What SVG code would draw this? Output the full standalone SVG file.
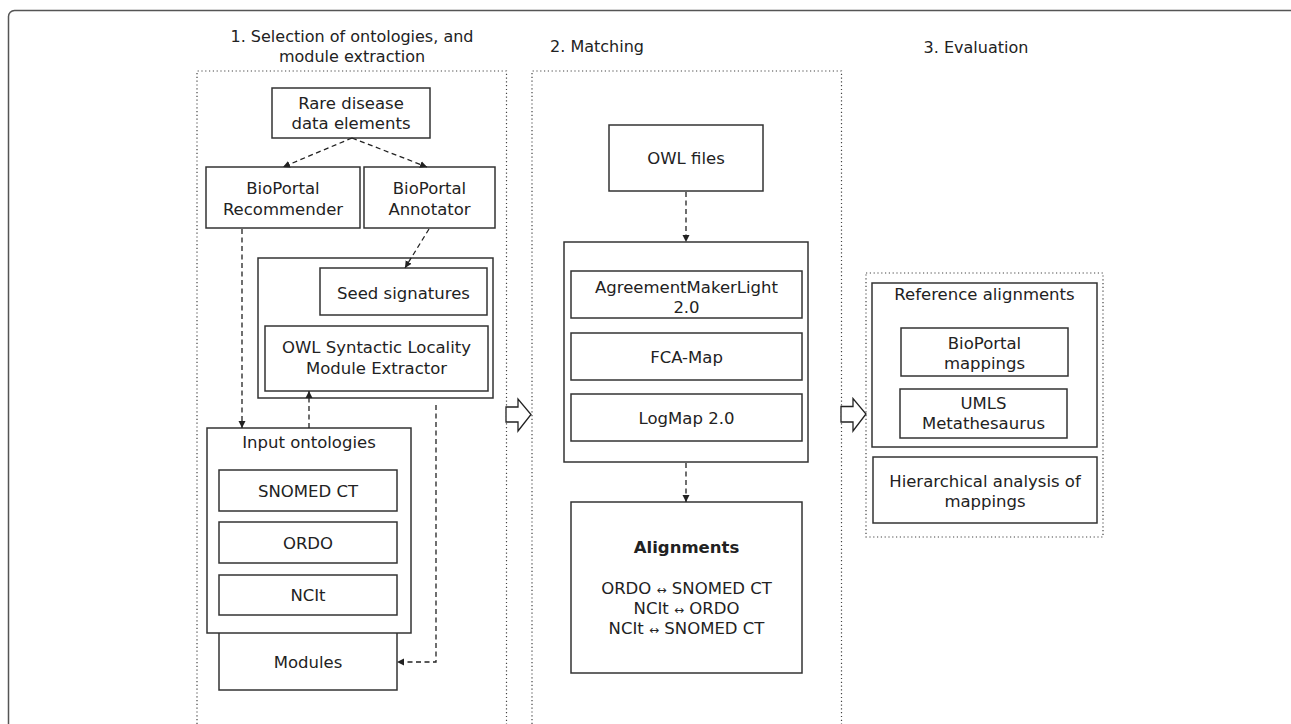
<svg xmlns="http://www.w3.org/2000/svg" width="1291" height="724" viewBox="0 0 1291 724">
<defs>
<style>
text{font-family:"DejaVu Sans","Noto Sans",sans-serif;font-size:16.5px;fill:#222;text-anchor:middle}
.title{font-size:16px}
.box{fill:#fff;stroke:#333;stroke-width:1.5}
.sec{fill:none;stroke:#444;stroke-width:1.2;stroke-dasharray:1.2 2.6}
.conn{fill:none;stroke:#222;stroke-width:1.3;stroke-dasharray:5 3.5}
.big{fill:#fff;stroke:#222;stroke-width:1.3}
.sym{font-size:12px}
</style>
<marker id="ah" markerWidth="8" markerHeight="8" refX="7" refY="4" orient="auto" markerUnits="userSpaceOnUse">
<path d="M0,0.5 L7,4 L0,7.5 Z" fill="#222"/>
</marker>
</defs>
<rect width="1291" height="724" fill="#fff"/>
<rect x="8.5" y="10.5" width="1290" height="740" rx="6" fill="none" stroke="#555" stroke-width="1.5"/>

<g id="titles">
<text class="title" x="352" y="42">1. Selection of ontologies, and</text>
<text class="title" x="352" y="62">module extraction</text>
<text class="title" x="597" y="52">2. Matching</text>
<text class="title" x="976" y="53">3. Evaluation</text>
</g>

<g id="sections">
<path class="sec" d="M197,724 V71 H506.5 V724"/>
<path class="sec" d="M532,724 V71 H841.5 V724"/>
<rect class="sec" x="866" y="273" width="237" height="264"/>
</g>

<g id="flow-arrows">
<polygon class="big" points="506,407 518,407 518,399 531,414.5 518,431 518,422 506,422"/>
<polygon class="big" points="841,406.5 853,406.5 853,398.5 866,414 853,431 853,422 841,422"/>
</g>

<g id="n-rare"><rect class="box" x="272" y="88" width="158" height="50"/><text x="351" y="109">Rare disease</text><text x="351" y="129">data elements</text></g>
<g id="n-recommender"><rect class="box" x="206" y="167" width="154" height="61"/><text x="283" y="194">BioPortal</text><text x="283" y="215">Recommender</text></g>
<g id="n-annotator"><rect class="box" x="364" y="167" width="131" height="61"/><text x="429.5" y="194">BioPortal</text><text x="429.5" y="215">Annotator</text></g>
<g id="n-extraction"><rect class="box" x="258" y="258" width="235" height="140"/></g>
<g id="n-seed"><rect class="box" x="320" y="268" width="167" height="47"/><text x="403.5" y="299">Seed signatures</text></g>
<g id="n-owlmod"><rect class="box" x="265" y="326" width="223" height="65"/><text x="376.5" y="353">OWL Syntactic Locality</text><text x="376.5" y="374">Module Extractor</text></g>
<g id="n-modules"><rect class="box" x="219" y="620" width="178" height="70"/><text x="308" y="668">Modules</text></g>
<g id="n-input"><rect class="box" x="207" y="428" width="204" height="205"/><text x="309" y="448">Input ontologies</text></g>
<g id="n-snomed"><rect class="box" x="219" y="470" width="178" height="41"/><text x="308" y="497">SNOMED CT</text></g>
<g id="n-ordo"><rect class="box" x="219" y="522" width="178" height="41"/><text x="308" y="549">ORDO</text></g>
<g id="n-ncit"><rect class="box" x="219" y="575" width="178" height="40"/><text x="308" y="601">NCIt</text></g>

<g id="n-owlfiles"><rect class="box" x="609" y="125" width="154" height="66"/><text x="686" y="164">OWL files</text></g>
<g id="n-matchers"><rect class="box" x="564" y="242" width="244" height="220"/></g>
<g id="n-aml"><rect class="box" x="571" y="271" width="231" height="47"/><text x="686.5" y="293">AgreementMakerLight</text><text x="686.5" y="313">2.0</text></g>
<g id="n-fca"><rect class="box" x="571" y="333" width="231" height="47"/><text x="686.5" y="363">FCA-Map</text></g>
<g id="n-logmap"><rect class="box" x="571" y="394" width="231" height="47"/><text x="686.5" y="424">LogMap 2.0</text></g>
<g id="n-alignments"><rect class="box" x="571" y="502" width="231" height="171"/>
<text x="686.5" y="553" font-weight="bold">Alignments</text>
<text x="686.5" y="594">ORDO <tspan class="sym">↔</tspan> SNOMED CT</text>
<text x="686.5" y="614">NCIt <tspan class="sym">↔</tspan> ORDO</text>
<text x="686.5" y="634">NCIt <tspan class="sym">↔</tspan> SNOMED CT</text>
</g>

<g id="n-reference"><rect class="box" x="872" y="283" width="225" height="164"/><text x="984.5" y="300">Reference alignments</text></g>
<g id="n-bpmap"><rect class="box" x="901" y="328" width="167" height="48"/><text x="984.5" y="349">BioPortal</text><text x="984.5" y="369">mappings</text></g>
<g id="n-umls"><rect class="box" x="900" y="389" width="167" height="49"/><text x="983.5" y="409">UMLS</text><text x="983.5" y="429">Metathesaurus</text></g>
<g id="n-hier"><rect class="box" x="873" y="457" width="224" height="66"/><text x="985" y="487">Hierarchical analysis of</text><text x="985" y="507">mappings</text></g>

<g id="connectors">
<path class="conn" d="M352,138 L283,167" marker-end="url(#ah)"/>
<path class="conn" d="M352,138 L427,167" marker-end="url(#ah)"/>
<path class="conn" d="M429,229 L405,268" marker-end="url(#ah)"/>
<path class="conn" d="M242,229 V428" marker-end="url(#ah)"/>
<path class="conn" d="M309,428 V391" marker-end="url(#ah)"/>
<path class="conn" d="M436,405 V662 H397" marker-end="url(#ah)"/>
<path class="conn" d="M686,192 V242" marker-end="url(#ah)"/>
<path class="conn" d="M686,463 V502" marker-end="url(#ah)"/>
</g>
</svg>
